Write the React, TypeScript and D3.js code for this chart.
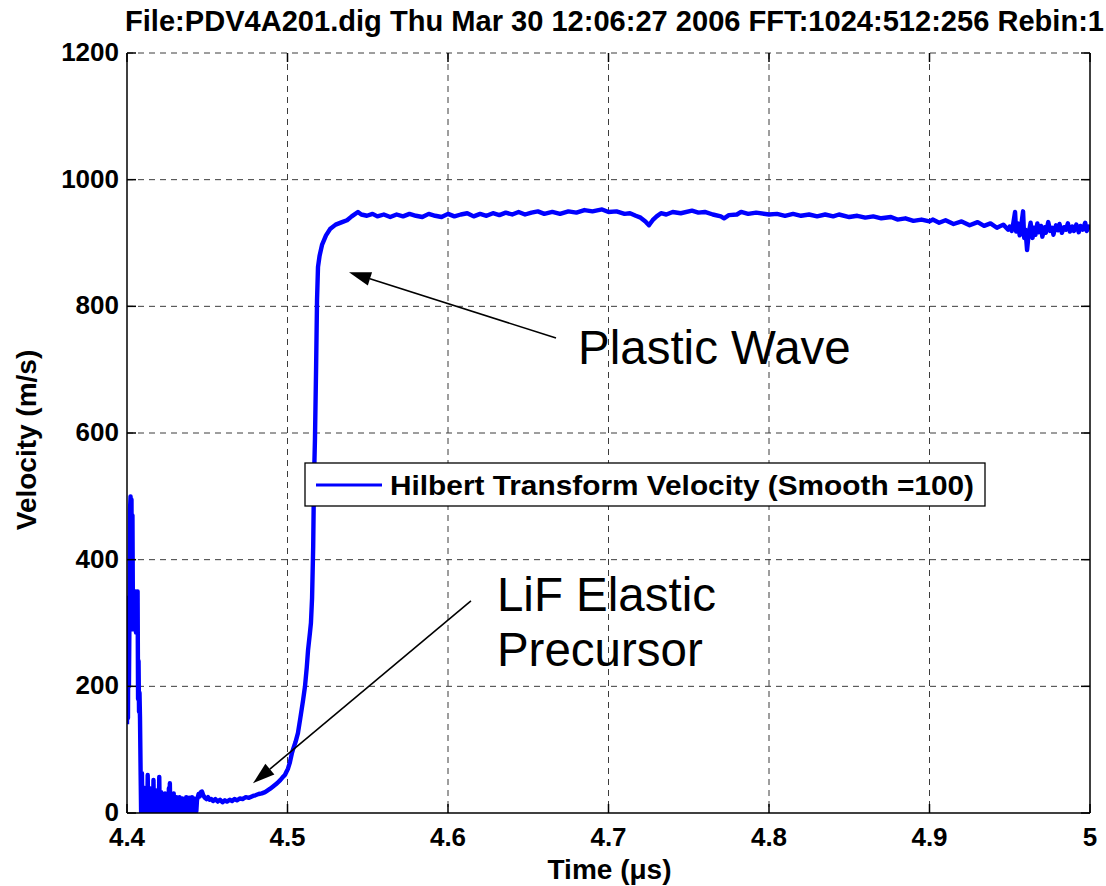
import React from 'react';
import * as d3 from 'd3';

const TITLE = 'File:PDV4A201.dig Thu Mar 30 12:06:27 2006 FFT:1024:512:256 Rebin:1';
const LEGEND_LABEL = 'Hilbert Transform Velocity (Smooth =100)';

const xTicks = [4.4, 4.5, 4.6, 4.7, 4.8, 4.9, 5.0];
const xTickLabels = ['4.4', '4.5', '4.6', '4.7', '4.8', '4.9', '5'];
const yTicks = [0, 200, 400, 600, 800, 1000, 1200];
const yTickLabels = ['0', '200', '400', '600', '800', '1000', '1200'];

// [time (us), velocity (m/s)]
const triggerBurst: [number, number][] = [
  [4.4, 140], [4.4003, 330], [4.4006, 150], [4.4009, 340], [4.4012, 200],
  [4.4016, 330], [4.4019, 480], [4.4022, 500], [4.4025, 300], [4.4028, 495],
  [4.4031, 290], [4.4034, 470], [4.4037, 310], [4.4041, 330], [4.4044, 290],
  [4.4047, 345], [4.405, 300], [4.4053, 350], [4.4056, 285], [4.4059, 340],
  [4.4062, 300], [4.4066, 350], [4.4069, 180], [4.4072, 240], [4.4075, 160],
  [4.4078, 190], [4.4081, 150], [4.4085, 60], [4.4088, 0],
];

const dropoutNoise: [number, number][] = [
  [4.409, 0], [4.4093, 63], [4.4096, 8], [4.4099, 30], [4.4102, 5], [4.4105, 40],
  [4.4108, 0], [4.4111, 26], [4.4114, 0], [4.4117, 36], [4.412, 6], [4.4123, 22],
  [4.4126, 2], [4.4129, 60], [4.4132, 4], [4.4135, 25], [4.4138, 0], [4.4141, 39],
  [4.4144, 6], [4.4147, 24], [4.415, 4], [4.4153, 28], [4.4156, 0], [4.4159, 21],
  [4.4162, 0], [4.4165, 52], [4.4168, 5], [4.4171, 27], [4.4174, 3], [4.4177, 36],
  [4.418, 0], [4.4183, 24], [4.4186, 0], [4.4189, 30], [4.4192, 6], [4.4195, 22],
  [4.4198, 2], [4.4201, 57], [4.4204, 3], [4.4207, 27], [4.421, 0], [4.4213, 33],
  [4.4216, 5], [4.4219, 24], [4.4222, 2], [4.4225, 26], [4.4228, 0], [4.4231, 22],
  [4.4234, 0], [4.4237, 31], [4.424, 4], [4.4243, 21], [4.4246, 4], [4.4249, 24],
  [4.4252, 0], [4.4255, 20], [4.4258, 0], [4.4261, 39], [4.4264, 2], [4.4267, 47],
  [4.427, 2], [4.4273, 24], [4.4276, 0], [4.4279, 28], [4.4282, 5], [4.4285, 22],
  [4.4288, 0], [4.4291, 31], [4.4294, 3], [4.4297, 20], [4.43, 0], [4.4303, 22],
  [4.4306, 3], [4.4309, 25], [4.4312, 0], [4.4315, 19], [4.4318, 4], [4.4321, 21],
  [4.4324, 0], [4.4327, 25], [4.433, 2], [4.4333, 18], [4.4336, 0], [4.4339, 20],
  [4.4342, 3], [4.4345, 23], [4.4348, 0], [4.4351, 19], [4.4354, 2], [4.4357, 18],
  [4.436, 0], [4.4363, 22], [4.4366, 2], [4.4369, 25], [4.4372, 0], [4.4375, 20],
  [4.4378, 0], [4.4381, 22], [4.4384, 2], [4.4387, 24], [4.439, 0], [4.4393, 20],
  [4.4396, 3], [4.4399, 22], [4.4402, 0], [4.4405, 25], [4.4408, 2], [4.4411, 20],
  [4.4414, 0], [4.4417, 23], [4.442, 2], [4.4423, 20], [4.4426, 0], [4.4429, 22],
  [4.4432, 3], [4.4436, 20],
];

const elasticPrecursor: [number, number][] = [
  [4.444, 24], [4.4446, 30], [4.4452, 26], [4.446, 33], [4.4467, 34],
  [4.4475, 28], [4.4485, 24], [4.4495, 22], [4.4505, 25], [4.4515, 21],
  [4.4525, 22], [4.4536, 19], [4.455, 22], [4.4565, 18], [4.458, 21],
  [4.4595, 17], [4.461, 20], [4.4623, 18], [4.464, 21], [4.4655, 19],
  [4.467, 22], [4.4685, 20], [4.4704, 23], [4.472, 22], [4.474, 25],
  [4.476, 24], [4.4785, 27], [4.48, 28], [4.482, 30], [4.484, 31],
  [4.486, 33], [4.4872, 35], [4.489, 38], [4.491, 42], [4.4935, 47],
  [4.4955, 52], [4.4972, 57], [4.4984, 60], [4.4995, 66], [4.5003, 70],
  [4.5015, 80], [4.5028, 95], [4.5034, 100], [4.505, 112], [4.5065, 126],
  [4.508, 150], [4.5097, 178], [4.5109, 200], [4.512, 230], [4.5128, 257],
  [4.514, 285], [4.5146, 300], [4.5153, 339],
];

const plasticRise: [number, number][] = [
  [4.516, 420], [4.5165, 525], [4.5171, 589], [4.5178, 700], [4.5184, 810],
  [4.519, 862], [4.52, 880], [4.5215, 897], [4.524, 912], [4.5265, 922],
  [4.53, 929], [4.534, 933], [4.5371, 936], [4.54, 942], [4.5439, 949],
  [4.546, 945], [4.5495, 943],
];

const plateau: [number, number][] = [
  [4.553, 946], [4.556, 942], [4.56, 945], [4.564, 941], [4.568, 945],
  [4.572, 942], [4.576, 946], [4.58, 943], [4.584, 941], [4.588, 946],
  [4.592, 943], [4.596, 941], [4.6, 946], [4.604, 942], [4.608, 945],
  [4.612, 947], [4.616, 942], [4.62, 946], [4.624, 943], [4.628, 947],
  [4.632, 944], [4.636, 948], [4.64, 945], [4.644, 949], [4.648, 945],
  [4.652, 948], [4.656, 950], [4.66, 946], [4.665, 949], [4.6698, 946],
  [4.675, 950], [4.68, 948], [4.685, 952], [4.69, 950], [4.696, 953],
  [4.7, 949], [4.705, 950], [4.71, 946], [4.7134, 947], [4.717, 943],
  [4.72, 940], [4.723, 934], [4.7252, 928], [4.7275, 936], [4.73, 942],
  [4.7327, 947], [4.736, 945], [4.74, 949], [4.745, 947], [4.752, 951],
  [4.756, 948], [4.76, 949], [4.765, 945], [4.77, 942], [4.772, 939],
  [4.775, 944], [4.78, 945], [4.7826, 949], [4.787, 946], [4.792, 948],
  [4.8, 945], [4.805, 946], [4.81, 943], [4.815, 946], [4.82, 943],
  [4.825, 945], [4.83, 942], [4.835, 945], [4.84, 942], [4.8436, 945],
  [4.85, 941], [4.855, 943], [4.86, 940], [4.865, 942], [4.87, 939],
  [4.876, 941], [4.88, 937], [4.885, 939], [4.89, 935], [4.895, 937],
  [4.9, 934], [4.902, 937], [4.906, 932], [4.91, 936], [4.915, 930],
  [4.92, 934], [4.925, 928], [4.93, 933], [4.934, 927], [4.938, 931],
  [4.942, 924], [4.946, 929], [4.949, 921],
];

const tailRinging: [number, number][] = [
  [4.95, 926], [4.9512, 919], [4.952, 928], [4.9533, 949], [4.954, 918],
  [4.955, 931], [4.9562, 912], [4.957, 925], [4.9583, 950], [4.959, 908],
  [4.9598, 921], [4.9608, 889], [4.9618, 915], [4.963, 932], [4.9642, 908],
  [4.965, 924], [4.966, 913], [4.9672, 931], [4.968, 917], [4.9695, 927],
  [4.9703, 910], [4.9718, 925], [4.9725, 916], [4.974, 933], [4.9752, 919],
  [4.9765, 924], [4.9772, 913], [4.9788, 928], [4.98, 920], [4.981, 930],
  [4.9825, 916], [4.9838, 925], [4.985, 921], [4.9862, 931], [4.9875, 918],
  [4.989, 926], [4.99, 919], [4.9915, 929], [4.993, 917], [4.994, 927],
  [4.9955, 921], [4.997, 932], [4.998, 919], [4.9992, 926], [5.0, 923],
];

const trace = [
  ...triggerBurst, ...dropoutNoise, ...elasticPrecursor,
  ...plasticRise, ...plateau, ...tailRinging,
];

// annotation anchors in data units: [tail t, tail v, tip t, tip v]
const plasticArrow = [4.6673, 750, 4.5383, 854];
const elasticArrow = [4.6143, 335, 4.4785, 47];

const W = 1106;
const H = 886;
const plot = { left: 127, right: 1090, top: 53, bottom: 813 };
const FONT = '"Liberation Sans", Arial, sans-serif';

const Arrow = ({ x1, y1, x2, y2 }: { x1: number; y1: number; x2: number; y2: number }) => {
  const ang = Math.atan2(y2 - y1, x2 - x1);
  const len = 22;
  const half = 7;
  const bx = x2 - len * Math.cos(ang);
  const by = y2 - len * Math.sin(ang);
  const px = -Math.sin(ang) * half;
  const py = Math.cos(ang) * half;
  return (
    <g>
      <line x1={x1} y1={y1} x2={bx} y2={by} stroke="#000" strokeWidth={1.6} />
      <polygon points={`${x2},${y2} ${bx + px},${by + py} ${bx - px},${by - py}`} fill="#000" />
    </g>
  );
};

export default function App() {
  const x = d3.scaleLinear().domain([4.4, 5.0]).range([plot.left, plot.right]);
  const y = d3.scaleLinear().domain([0, 1200]).range([plot.bottom, plot.top]);
  const line = d3.line<[number, number]>().x((d) => x(d[0])).y((d) => y(d[1]));
  const tick = 9;

  return (
    <div style={{ position: 'absolute', left: 0, top: 0 }}>
      <svg width={W} height={H} style={{ display: 'block', background: '#fff' }} fontFamily={FONT}>
        <defs>
          <clipPath id="plotClip">
            <rect x={plot.left} y={plot.top} width={plot.right - plot.left} height={plot.bottom - plot.top} />
          </clipPath>
        </defs>

        {/* grid */}
        <g stroke="#3c3c3c" strokeWidth={1} strokeDasharray="6,5">
          {xTicks.slice(1, -1).map((t) => (
            <line key={'gx' + t} x1={x(t)} x2={x(t)} y1={plot.top} y2={plot.bottom} />
          ))}
          {yTicks.slice(1).map((v) => (
            <line key={'gy' + v} x1={plot.left} x2={plot.right} y1={y(v)} y2={y(v)} />
          ))}
        </g>

        {/* trace */}
        <path
          d={line(trace) || ''}
          fill="none"
          stroke="#0000ff"
          strokeWidth={4.4}
          strokeLinejoin="round"
          clipPath="url(#plotClip)"
        />

        {/* axes box (top edge is the dashed grid) */}
        <g stroke="#000" strokeWidth={1.5} fill="none">
          <line x1={plot.left} x2={plot.left} y1={plot.top} y2={plot.bottom} />
          <line x1={plot.right} x2={plot.right} y1={plot.top} y2={plot.bottom} />
          <line x1={plot.left} x2={plot.right} y1={plot.bottom} y2={plot.bottom} />
          {xTicks.map((t) => (
            <g key={'tx' + t}>
              <line x1={x(t)} x2={x(t)} y1={plot.bottom} y2={plot.bottom - tick} />
              <line x1={x(t)} x2={x(t)} y1={plot.top} y2={plot.top + tick} />
            </g>
          ))}
          {yTicks.map((v) => (
            <g key={'ty' + v}>
              <line x1={plot.left} x2={plot.left + tick} y1={y(v)} y2={y(v)} />
              <line x1={plot.right} x2={plot.right - tick} y1={y(v)} y2={y(v)} />
            </g>
          ))}
        </g>

        {/* tick labels */}
        <g fontSize={26} fontWeight="bold" fill="#000">
          {xTicks.map((t, i) => (
            <text key={'lx' + t} x={x(t)} y={plot.bottom + 33} textAnchor="middle">
              {xTickLabels[i]}
            </text>
          ))}
          {yTicks.map((v, i) => (
            <text key={'ly' + v} x={plot.left - 8} y={y(v) + 8} textAnchor="end">
              {yTickLabels[i]}
            </text>
          ))}
        </g>

        {/* title & axis labels */}
        <text
          x={125}
          y={31}
          fontSize={29}
          fontWeight="bold"
          textLength={979}
          lengthAdjust="spacingAndGlyphs"
        >
          {TITLE}
        </text>
        <text x={(plot.left + plot.right) / 2 + 1} y={879} fontSize={28} fontWeight="bold" textAnchor="middle">
          Time (μs)
        </text>
        <text
          transform={`translate(36, ${(plot.top + plot.bottom) / 2 + 7}) rotate(-90)`}
          fontSize={28}
          fontWeight="bold"
          textAnchor="middle"
        >
          Velocity (m/s)
        </text>

        {/* annotations */}
        <Arrow x1={x(plasticArrow[0])} y1={y(plasticArrow[1])} x2={x(plasticArrow[2])} y2={y(plasticArrow[3])} />
        <Arrow x1={x(elasticArrow[0])} y1={y(elasticArrow[1])} x2={x(elasticArrow[2])} y2={y(elasticArrow[3])} />
        <g fontSize={47.5} fill="#000">
          <text x={x(4.681)} y={y(709)}>Plastic Wave</text>
          <text x={x(4.6305)} y={y(319)}>LiF Elastic</text>
          <text x={x(4.6305)} y={y(232)}>Precursor</text>
        </g>

        {/* legend */}
        <g>
          <rect x={305} y={463} width={680} height={43} fill="#fff" stroke="#000" strokeWidth={1.3} />
          <line x1={316} x2={382} y1={485} y2={485} stroke="#0000ff" strokeWidth={3} />
          <text x={390} y={495} fontSize={28} fontWeight="bold" textLength={584} lengthAdjust="spacingAndGlyphs">
            {LEGEND_LABEL}
          </text>
        </g>
      </svg>
    </div>
  );
}
